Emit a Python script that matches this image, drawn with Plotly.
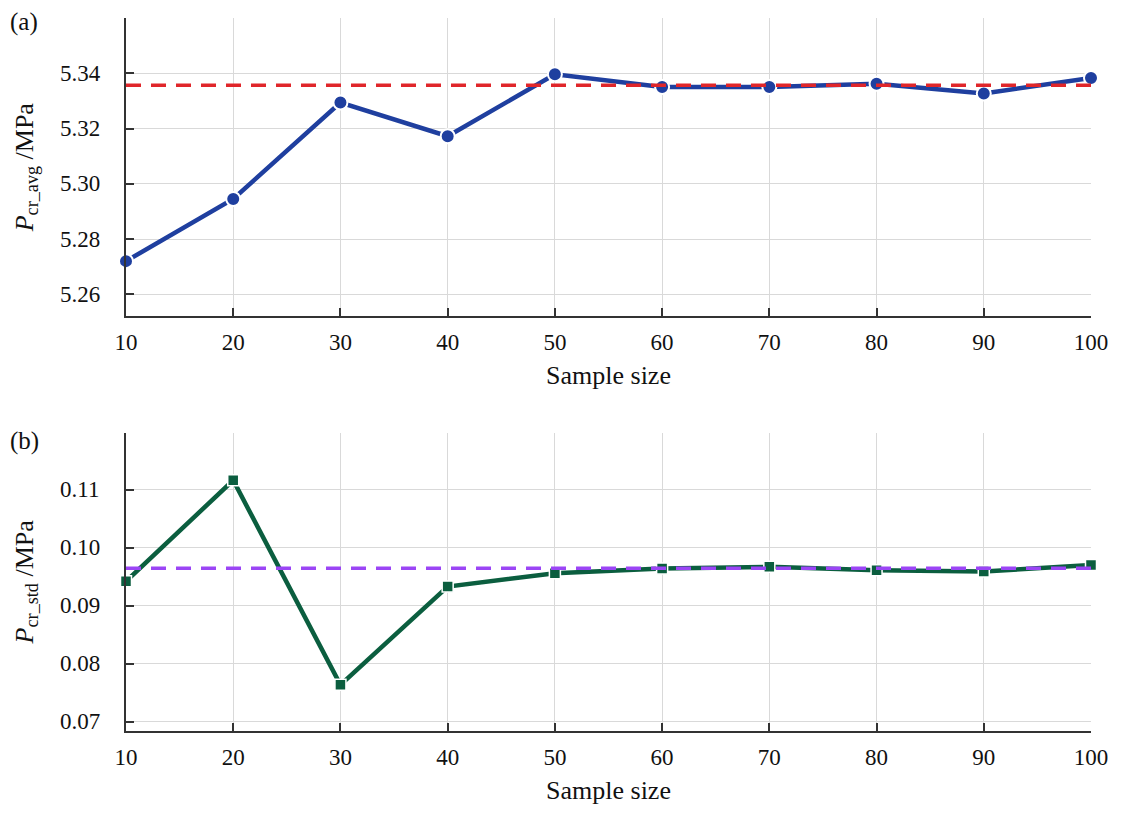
import plotly.graph_objects as go
from plotly.subplots import make_subplots

# sample sizes and the two convergence curves
sample_size = [10, 20, 30, 40, 50, 60, 70, 80, 90, 100]
p_avg = [5.2720, 5.2945, 5.3294, 5.3172, 5.3396, 5.3350, 5.3350, 5.3362, 5.3327, 5.3383]
p_std = [0.0942, 0.1116, 0.0764, 0.0933, 0.0956, 0.0964, 0.0967, 0.0961, 0.0959, 0.0970]
avg_ref = 5.3357
std_ref = 0.09645

avg_ticks = [5.26, 5.28, 5.30, 5.32, 5.34]
std_ticks = [0.07, 0.08, 0.09, 0.10, 0.11]
x_ticks = [10, 20, 30, 40, 50, 60, 70, 80, 90, 100]

font = "Liberation Serif"
axis_col = "#333333"
grid_col = "#d9d9d9"
txt_col = "#111111"

fig = make_subplots(rows=2, cols=1, vertical_spacing=0.163)

fig.add_trace(go.Scatter(
    x=sample_size, y=p_avg, mode="lines+markers",
    line=dict(color="#1f3f9f", width=4.5),
    marker=dict(symbol="circle", size=14, color="#1f3f9f",
                line=dict(color="white", width=2)),
    cliponaxis=False, showlegend=False), row=1, col=1)

fig.add_trace(go.Scatter(
    x=sample_size, y=p_std, mode="lines+markers",
    line=dict(color="#0b5e3f", width=4.5),
    marker=dict(symbol="square", size=11, color="#0b5e3f",
                line=dict(color="white", width=1.5)),
    cliponaxis=False, showlegend=False), row=2, col=1)

fig.add_hline(y=avg_ref, line=dict(color="#e0262a", width=3.5, dash="15px,10px"), row=1, col=1)
fig.add_hline(y=std_ref, line=dict(color="#9b45f5", width=3.5, dash="15px,10px"), row=2, col=1)

common_x = dict(range=[10, 100], tickvals=x_ticks, showgrid=True, gridcolor=grid_col, gridwidth=1,
                showline=True, linecolor=axis_col, linewidth=2, ticks="inside", ticklen=8,
                tickcolor=axis_col, tickwidth=2, zeroline=False, ticklabelstandoff=4,
                tickfont=dict(family=font, size=23, color=txt_col),
                title=dict(text="Sample size", font=dict(family=font, size=26, color=txt_col), standoff=12))
common_y = dict(showgrid=True, gridcolor=grid_col, gridwidth=1, showline=True, linecolor=axis_col,
                linewidth=2, ticks="inside", ticklen=8, tickcolor=axis_col, tickwidth=2,
                zeroline=False, showticklabels=False)

fig.update_xaxes(**common_x, row=1, col=1)
fig.update_xaxes(**common_x, row=2, col=1)
fig.update_yaxes(**common_y, range=[5.252, 5.36], tickvals=avg_ticks,
                 title=dict(text="<i>P</i><sub>cr_avg</sub> /MPa",
                            font=dict(family=font, size=26, color=txt_col), standoff=83),
                 row=1, col=1)
fig.update_yaxes(**common_y, range=[0.06845, 0.1198], tickvals=std_ticks,
                 title=dict(text="<i>P</i><sub>cr_std</sub> /MPa",
                            font=dict(family=font, size=26, color=txt_col), standoff=83),
                 row=2, col=1)

# y tick labels sit well away from the axis line, so they are written as annotations
for v in avg_ticks:
    fig.add_annotation(text=f"{v:.2f}", xref="paper", yref="y", x=-0.0705, y=v, xanchor="left",
                       yanchor="middle", showarrow=False, font=dict(family=font, size=23, color=txt_col))
for v in std_ticks:
    fig.add_annotation(text=f"{v:.2f}", xref="paper", yref="y2", x=-0.0705, y=v, xanchor="left",
                       yanchor="middle", showarrow=False, font=dict(family=font, size=23, color=txt_col))

fig.add_annotation(text="(a)", xref="paper", yref="paper", x=-0.122, y=0.995, xanchor="left",
                   yanchor="middle", showarrow=False, font=dict(family=font, size=25, color=txt_col))
fig.add_annotation(text="(b)", xref="paper", yref="paper", x=-0.122, y=0.407, xanchor="left",
                   yanchor="middle", showarrow=False, font=dict(family=font, size=25, color=txt_col))

fig.update_layout(
    width=1124, height=822,
    margin=dict(l=118, r=41, t=10, b=99, autoexpand=False),
    plot_bgcolor="white", paper_bgcolor="white",
    font=dict(family=font),
)

fig.write_html("out.html")
